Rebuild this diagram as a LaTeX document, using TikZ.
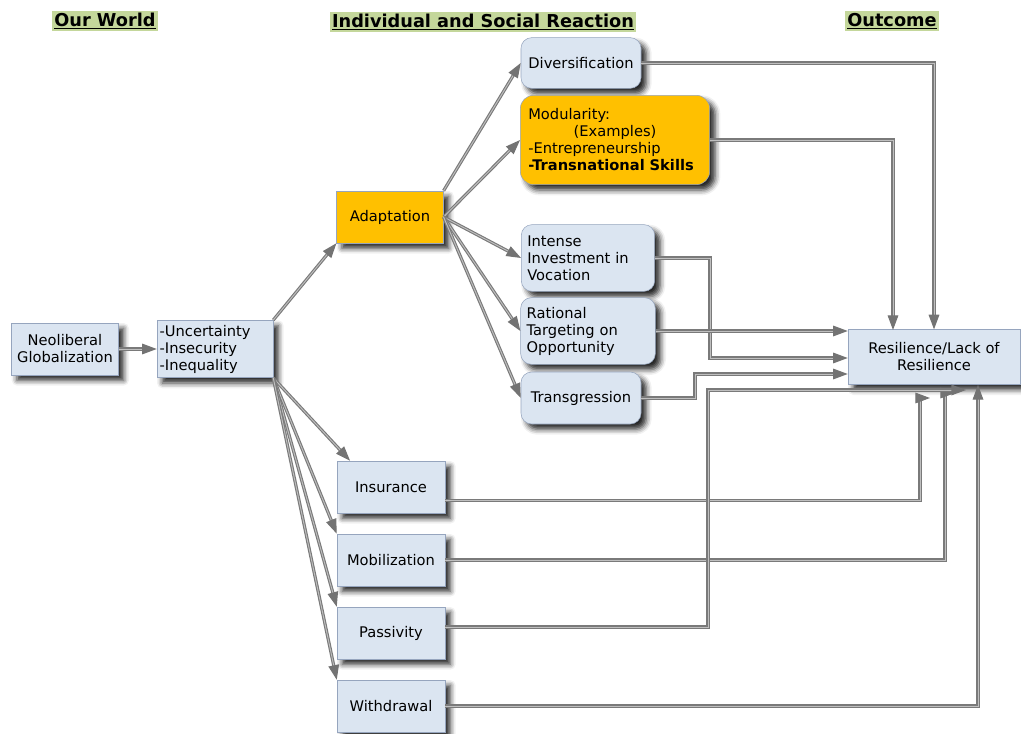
\documentclass[tikz,border=0pt]{standalone}
\usepackage{fontspec}
\setmainfont{DejaVu Sans}
\usetikzlibrary{arrows.meta,shadows.blur}
\definecolor{boxfill}{RGB}{219,229,241}
\definecolor{boxline}{RGB}{150,165,190}
\definecolor{hotorange}{RGB}{255,192,0}
\definecolor{hlgreen}{RGB}{196,215,155}
\tikzset{
  box/.style={draw=boxline, fill=boxfill, inner sep=2pt,
    font=\fontsize{11}{12.75}\selectfont,
    blur shadow={shadow xshift=4pt, shadow yshift=-4pt, shadow blur radius=4pt, shadow opacity=85}},
  rbox/.style={box, rounded corners=8pt},
  hot/.style={fill=hotorange},
  small/.style={minimum width=81pt, minimum height=39pt},
  head/.style={fill=hlgreen, inner sep=1.5pt, font=\fontsize{13.3}{15}\selectfont\bfseries},
  conn/.style={draw=black!52, double=black!25, double distance=0.7pt, line width=0.85pt,
    -{Triangle[length=11pt, width=8pt, fill=black!55, color=black!55]}}
}
\begin{document}
\begin{tikzpicture}[x=0.75pt,y=-0.75pt]
  \useasboundingbox (0,0) rectangle (1021,734);

  % column heads
  \node[head] (hworld) at (105,21) {\underline{Our World}};
  \node[head] (hreact) at (483,22) {\underline{Individual and Social Reaction}};
  \node[head] (hout) at (892,21) {\underline{Outcome}};

  % our world
  \node[box, minimum width=80pt, minimum height=39pt, align=center] (neo) at (65,349) {Neoliberal\\Globalization};
  \node[box, minimum width=87pt, minimum height=43pt, text width=83pt, align=left] (unc) at (215,349) {-Uncertainty\\-Insecurity\\-Inequality};

  % reactions
  \node[box, hot, minimum width=80pt, minimum height=39pt] (adapt) at (390,217) {Adaptation};
  \node[rbox, minimum width=90pt, minimum height=38pt] (div) at (581,63) {Diversification};
  \node[rbox, hot, rounded corners=10pt, minimum width=142pt, minimum height=67pt, text width=130pt, inner xsep=6pt, align=left] (mod) at (615,140)
    {Modularity:\\\hspace*{34pt}(Examples)\\-Entrepreneurship\\\textbf{-Transnational Skills}};
  \node[rbox, minimum width=100pt, minimum height=50pt, text width=91pt, inner xsep=4.5pt, align=left] (int) at (588,258) {Intense\\Investment in\\Vocation};
  \node[rbox, minimum width=101pt, minimum height=50pt, text width=92pt, inner xsep=4.5pt, align=left] (rat) at (588,331) {Rational\\Targeting on\\Opportunity};
  \node[rbox, minimum width=90pt, minimum height=39pt] (tr) at (581,398) {Transgression};
  \node[box, small] (ins) at (391,487) {Insurance};
  \node[box, small] (mob) at (391,560) {Mobilization};
  \node[box, small] (pas) at (391,633) {Passivity};
  \node[box, small] (wd) at (391,706) {Withdrawal};

  % outcome
  \node[box, minimum width=129pt, minimum height=41pt, align=center] (res) at (934,357) {Resilience/Lack of\\Resilience};

  % left fan
  \draw[conn] (neo) -- (unc.west);
  \draw[conn] (unc.north east) -- (adapt.south west);
  \draw[conn] (unc.south east) -- ([xshift=10pt]ins.north west);
  \foreach \n in {mob,pas,wd}
    \draw[conn] (unc.south east) -- (\n.north west);

  % adaptation fan
  \draw[conn] (adapt.north east) -- (div.west);
  \foreach \n in {mod,int,rat,tr}
    \draw[conn] (adapt.east) -- (\n.west);

  % into the outcome
  \coordinate (rmod) at (893,330);
  \coordinate (bint) at (710,358);
  \coordinate (btr) at (695,374);
  \coordinate (bins) at (920,398);
  \coordinate (bmob) at (945,393);
  \coordinate (bpas) at (708,390);
  \coordinate (bwd) at (978,385);
  \draw[conn] (div.east) -| (res.north);
  \draw[conn] (mod.east) -| (rmod);
  \draw[conn] (int.east) -| (bint) -- (bint -| res.west);
  \draw[conn] (rat.east) -- (rat.east -| res.west);
  \draw[conn] (tr.east) -| (btr) -- (btr -| res.west);
  \draw[conn] ([yshift=-10pt]ins.east) -| (bins) -- ++(10,0);
  \draw[conn] (mob.east) -| (bmob) -- ++(10,0);
  \draw[conn] ([yshift=4.5pt]pas.east) -| (bpas) -- ++(258,0);
  \draw[conn] (wd.east) -| (bwd);
\end{tikzpicture}
\end{document}
